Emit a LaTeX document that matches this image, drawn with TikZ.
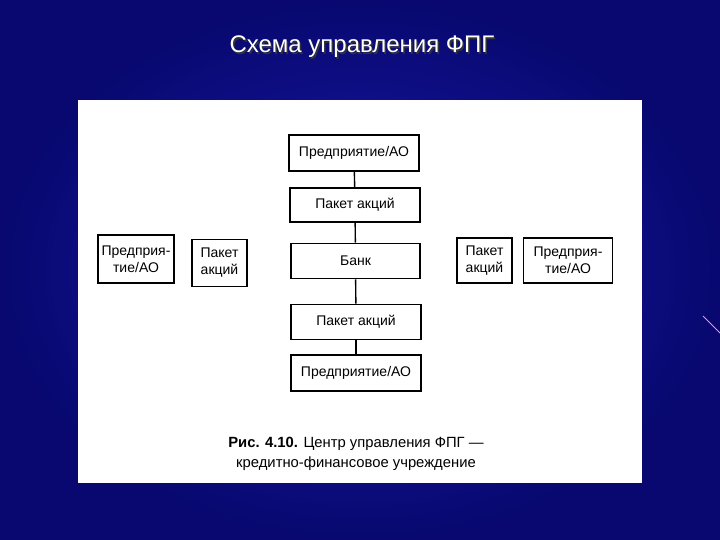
\documentclass[tikz,border=0pt]{standalone}
\usepackage{fontspec}
\setmainfont{Liberation Sans}
\begin{document}
\begin{tikzpicture}[x=1pt,y=-1pt,
  box/.style={draw=black,line width=1.7pt,inner sep=0pt,align=center,font=\fontsize{14}{17}\selectfont},
  link/.style={draw=black,line width=1.4pt}]
\definecolor{bgin}{RGB}{26,26,172}
\definecolor{bgout}{RGB}{8,8,112}
\definecolor{streak}{RGB}{230,150,220}
\useasboundingbox (0,0) rectangle (720,540);
\shade[inner color=bgin,outer color=bgout] (0,0) rectangle (720,540);
\draw[streak,line width=1pt] (703,316) -- (720,333);
\node[text=black!80,font=\fontsize{24}{27}\selectfont] at (363.5,48.5) {Схема управления ФПГ};
\node[text=white,font=\fontsize{24}{27}\selectfont] (title) at (362,47) {Схема управления ФПГ};
\fill[white] (78,100) rectangle (642,483);
\node[box,minimum width=130pt,minimum height=36pt] (e1) at (354,153) {Предприятие/АО};
\node[box,minimum width=130pt,minimum height=34pt] (p1) at (355,205) {Пакет акций};
\node[box,minimum width=129pt,minimum height=35pt] (bank) at (355.5,261) {Банк};
\node[box,minimum width=130pt,minimum height=35pt] (p2) at (356,322) {Пакет акций};
\node[box,minimum width=130pt,minimum height=36pt] (e2) at (356,373) {Предприятие/АО};
\node[box,minimum width=76pt,minimum height=48pt] (lE) at (136,259) {Предприя-\\тие/АО};
\node[box,minimum width=55pt,minimum height=47pt] (lP) at (219.5,263) {Пакет\\акций};
\node[box,minimum width=55pt,minimum height=45pt] (rP) at (484.5,260.5) {Пакет\\акций};
\node[box,minimum width=89pt,minimum height=45pt] (rE) at (568,260.5) {Предприя-\\тие/АО};
\draw[link] (e1) -- (p1);
\draw[link] (p1) -- (bank);
\draw[link] (bank) -- (p2);
\draw[link] (p2) -- (e2);
\node[align=center,font=\fontsize{14.8}{19.5}\selectfont] (cap) at (356,454) {\textbf{Рис. 4.10.} Центр управления ФПГ —\\кредитно-финансовое учреждение};
\end{tikzpicture}
\end{document}
